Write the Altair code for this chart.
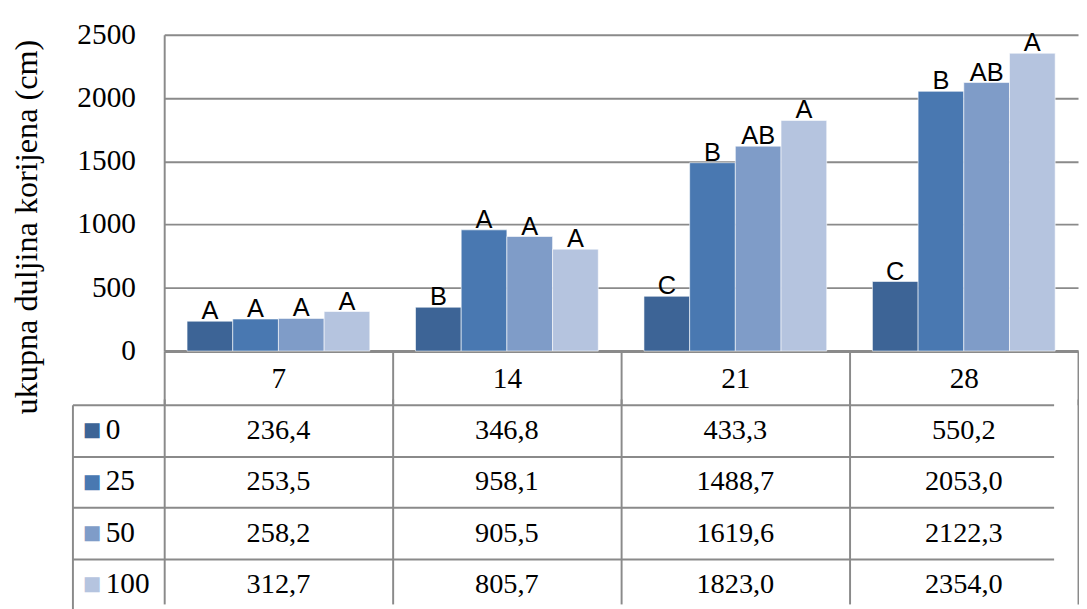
import altair as alt
import pandas as pd

days = ["7", "14", "21", "28"]
series = ["0", "25", "50", "100"]

values_0 = [236.4, 346.8, 433.3, 550.2]
values_25 = [253.5, 958.1, 1488.7, 2053.0]
values_50 = [258.2, 905.5, 1619.6, 2122.3]
values_100 = [312.7, 805.7, 1823.0, 2354.0]

letters_0 = ["A", "B", "C", "C"]
letters_25 = ["A", "A", "B", "B"]
letters_50 = ["A", "A", "AB", "AB"]
letters_100 = ["A", "A", "A", "A"]

y_ticks = [0, 500, 1000, 1500, 2000, 2500]
y_title = ["ukupna duljina korijena (cm)"]

colors = ["#3D6496", "#4978B1", "#7F9CC8", "#B5C4DF"]
gray = "#8A8A8A"
serif = "Liberation Serif"

rows = []
for s, vals, lets in zip(series,
                         [values_0, values_25, values_50, values_100],
                         [letters_0, letters_25, letters_50, letters_100]):
    for d, v, l in zip(days, vals, lets):
        rows.append({"day": d, "series": s, "value": v, "letter": l,
                     "label": f"{v:.1f}".replace(".", ",")})
df = pd.DataFrame(rows)
df_series = pd.DataFrame({"series": series})
df_ticks = pd.DataFrame({"tick": y_ticks})
df_title = pd.DataFrame({"t": y_title})

x_scale = alt.Scale(domain=days, range=[0, 936], paddingInner=0, paddingOuter=0)
off_scale = alt.Scale(domain=series, paddingInner=0, paddingOuter=0.5)
y_scale = alt.Scale(domain=[0, 2500], nice=False)
color_scale = alt.Scale(domain=series, range=colors)

x_axis_a = alt.Axis(orient="bottom", title=None, labelFont=serif,
                    labelFontSize=30, labelColor="black", labelBaseline="middle",
                    labelPadding=-27, labelAngle=0, tickBand="extent", tickSize=55,
                    tickColor=gray, tickWidth=2, domainColor=gray, domainWidth=3,
                    grid=False)
y_axis_a = alt.Axis(orient="left", values=y_ticks, title=None, labels=False,
                    ticks=False, domain=True, domainColor=gray, domainWidth=2,
                    grid=False)
y_grid_a = alt.Axis(orient="left", values=y_ticks, title=None, labels=False,
                    ticks=False, domain=False, grid=True, gridColor=gray,
                    gridWidth=2)

bars = alt.Chart(df).mark_bar(stroke="white", strokeWidth=1, strokeOpacity=0.6).encode(
    x=alt.X("day:N", sort=days, scale=x_scale, axis=x_axis_a),
    xOffset=alt.XOffset("series:N", sort=series, scale=off_scale),
    y=alt.Y("value:Q", scale=y_scale, axis=y_axis_a),
    color=alt.Color("series:N", sort=series, scale=color_scale, legend=None),
)
letters = alt.Chart(df).mark_text(baseline="alphabetic", dy=-2,
                                  font="Liberation Sans", fontSize=26,
                                  color="black").encode(
    x=alt.X("day:N", sort=days, scale=x_scale, axis=x_axis_a),
    xOffset=alt.XOffset("series:N", sort=series, scale=off_scale),
    y=alt.Y("value:Q", scale=y_scale, axis=y_grid_a),
    text="letter:N",
)
tick_labels = alt.Chart(df_ticks).mark_text(
    align="right", baseline="middle", dx=-29, font=serif, fontSize=30,
    color="black").encode(
    x=alt.value(0),
    y=alt.Y("tick:Q", scale=y_scale, axis=None),
    text=alt.Text("tick:Q", format="d"),
)
title_text = alt.Chart(df_title).mark_text(
    angle=270, align="center", baseline="alphabetic", font=serif,
    fontSize=33, color="black").encode(
    x=alt.value(-130), y=alt.value(197), text="t:N",
)
panel_a = alt.layer(bars, letters, tick_labels, title_text).resolve_axis(
    y="independent").properties(width=911, height=324)

y_scale_b = alt.Scale(domain=series, range=[0, 210], paddingInner=0, paddingOuter=0)

table_text = alt.Chart(df).mark_text(font=serif, fontSize=29,
                                     color="black").encode(
    x=alt.X("day:N", sort=days, scale=x_scale,
            axis=alt.Axis(orient="bottom", title=None, labels=False, ticks=False,
                          domain=False, grid=True, tickBand="extent",
                          gridColor=gray, gridWidth=2)),
    y=alt.Y("series:N", sort=series, scale=y_scale_b,
            axis=alt.Axis(orient="left", title=None, tickBand="extent",
                          tickSize=94, tickColor=gray, tickWidth=2,
                          grid=False, domain=False, labels=False)),
    text="label:N",
)

label_color = {
    "condition": [
        {"test": "datum.value === '0'", "value": colors[0]},
        {"test": "datum.value === '25'", "value": colors[1]},
        {"test": "datum.value === '50'", "value": colors[2]},
    ],
    "value": colors[3],
}

squares = alt.Chart(df_series).mark_text(opacity=0).encode(
    y=alt.Y("series:N", sort=series, scale=y_scale_b,
            axis=alt.Axis(orient="left", offset=94, title=None, ticks=False,
                          grid=False, domain=True, domainColor=gray,
                          domainWidth=2, labelExpr="'■'",
                          labelFont="DejaVu Sans", labelFontSize=20,
                          labelColor=label_color, labelPadding=-29,
                          labelAlign="right", labelBaseline="middle")),
    text="series:N",
)

row_names = alt.Chart(df_series).mark_text(
    align="left", baseline="middle", dx=-60, font=serif, fontSize=30,
    color="black").encode(
    x=alt.value(0),
    y=alt.Y("series:N", sort=series, scale=y_scale_b, axis=None),
    text="series:N",
)

row_grid = alt.Chart(df_series).mark_text(opacity=0).encode(
    y=alt.Y("series:N", sort=series, scale=y_scale_b,
            axis=alt.Axis(orient="left", title=None, labels=False, ticks=False,
                          domain=False, grid=True, tickBand="extent",
                          gridColor=gray, gridWidth=2)),
    text="series:N",
)

panel_b = alt.layer(table_text, squares, row_names, row_grid).resolve_axis(
    y="independent").properties(width=911, height=204)

chart = alt.vconcat(panel_a, panel_b, spacing=55, bounds="flush").properties(
    padding={"left": 4, "top": 5, "right": 0, "bottom": 0},
    background="white",
).configure_view(stroke=None).configure_text(font=serif)

chart.save("out.html", embed_options={"renderer": "svg", "actions": False})
